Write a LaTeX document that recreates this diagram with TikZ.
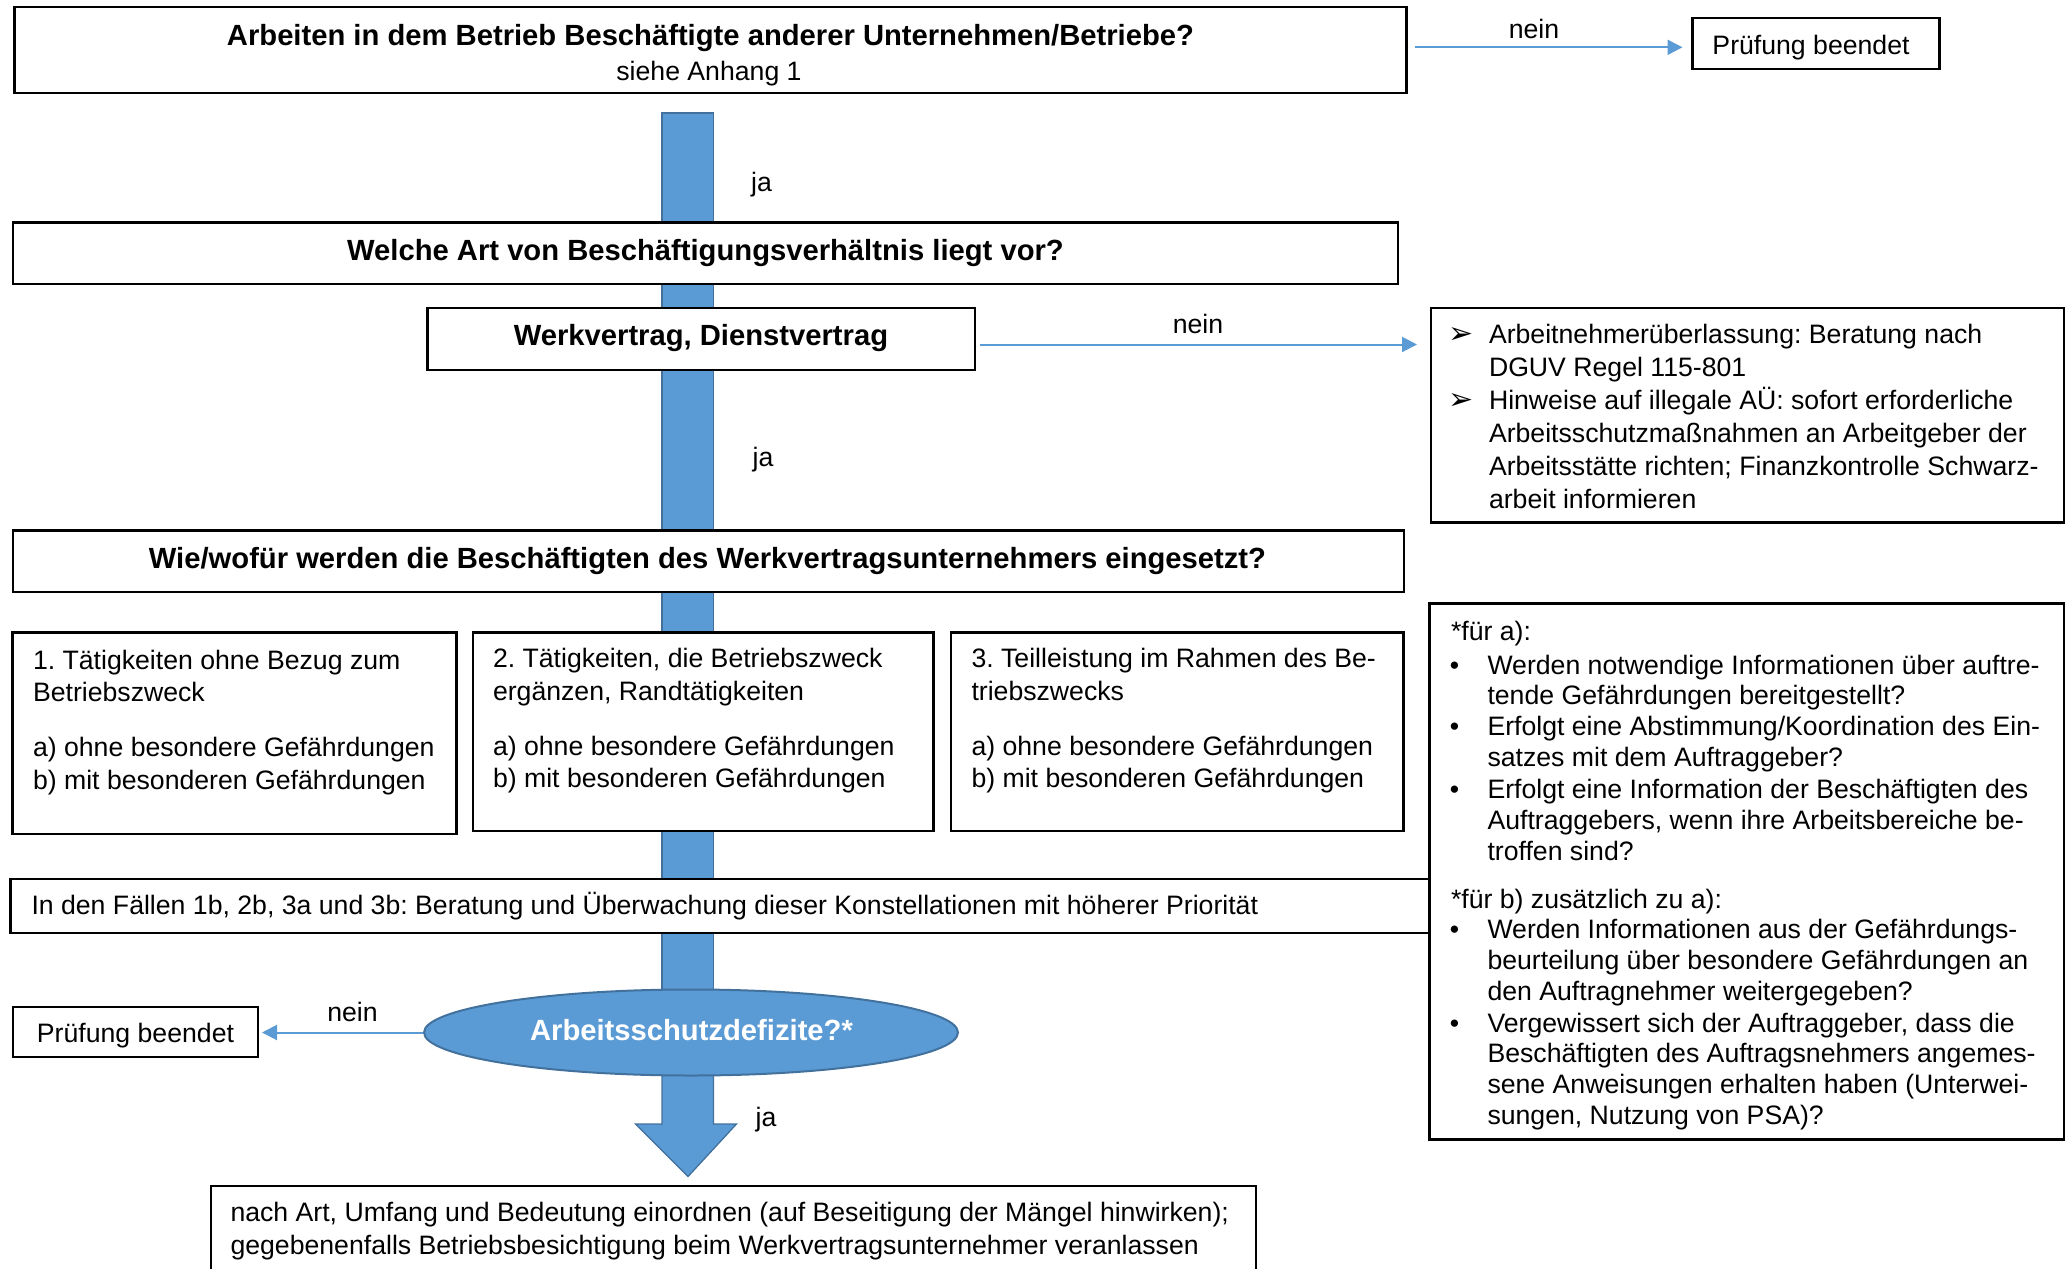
\documentclass[tikz,border=0pt]{standalone}
\usepackage{fontspec}
\setmainfont{Liberation Sans}
\newfontfamily\djv{DejaVu Sans}
\usetikzlibrary{arrows.meta,shapes.geometric}
\definecolor{obl}{HTML}{5B9BD5}
\definecolor{obd}{HTML}{41719C}
\frenchspacing
\newcommand\drawbox[5]{\node[box, minimum width={#4-#2}, minimum height={#5-#3}] (#1) at ({(#2+#4)/2},{(#3+#5)/2}) {};}
\begin{document}
\begin{tikzpicture}[x=1pt,y=-1pt,
 box/.style={draw=black, fill=white, line width=2.2pt, inner sep=0pt, outer sep=0pt, rectangle},
 txt/.style={inner sep=0pt, outer sep=0pt, anchor=base west, font=\frenchspacing\fontsize{26.65}{32.8}\selectfont},
 ctxt/.style={txt, anchor=base},
 ftxt/.style={txt, font=\frenchspacing\fontsize{26.65}{30.8}\selectfont},
 btxt/.style={inner sep=0pt, outer sep=0pt, anchor=base, font=\fontsize{29.2}{35}\selectfont\bfseries},
 arr/.style={draw=obl, line width=2pt, -{Triangle[length=15pt,width=15pt]}},
 bigarrow/.style={fill=obl, draw=obd, line width=1.3pt},
 arrbullet/.style={inner sep=0pt, outer sep=0pt, anchor=base, font=\djv\fontsize{30}{30}\selectfont},
]
\useasboundingbox (0,0) rectangle (2065,1269);
\clip (0,0) rectangle (2065,1269);

% main blue bar (behind the boxes)
\path[bigarrow] (662,113) rectangle (713.5,1045);

% boxes
\drawbox{top}{14.5}{7}{1406.5}{93}
\drawbox{pb1}{1692.5}{18}{1939.5}{68.7}
\drawbox{art}{13}{222.5}{1398}{284}
\drawbox{werk}{427.5}{308}{975}{370}
\drawbox{aue}{1431}{308.3}{2064}{522.5}
\drawbox{wie}{13}{530.5}{1404}{592}
\drawbox{r1}{12.5}{632.5}{456.5}{834}
\drawbox{r2}{473}{632.5}{933.5}{831}
\drawbox{r3}{951}{632.5}{1403.5}{831}
\drawbox{inden}{10.5}{879}{1429}{933}
\drawbox{fn}{1429.5}{603.5}{2064}{1139.5}
\drawbox{pb2}{13}{1007}{258}{1057}
\drawbox{res}{211}{1186}{1256}{1320}

% lower blue arrow
\path[bigarrow] (662,1050) -- (662,1124) -- (635.5,1124) -- (688,1176.5) -- (736.5,1124) -- (713.5,1124) -- (713.5,1050) -- cycle;

% decision ellipse
\node[ellipse, fill=obl, draw=obd, line width=2pt, minimum width=534, minimum height=86, inner sep=0pt] (ell) at (691,1032.5) {};
\node[btxt, text=white] (ellt) at (691.5,1040) {Arbeitsschutzdefizite?*};

% texts
\node[btxt] (topt) at (710.5,45.5) {Arbeiten in dem Betrieb Beschäftigte anderer Unternehmen/Betriebe?};
\node[ctxt] (topt2) at (709,80) {siehe Anhang 1};
\node[ctxt] (pb1t) at (1811,54) {Prüfung beendet};
\node[ctxt] (nein1) at (1534,38) {nein};
\node[ctxt] (ja1) at (761.5,191) {ja};
\node[btxt] (artt) at (705.5,260) {Welche Art von Beschäftigungsverhältnis liegt vor?};
\node[btxt] (werkt) at (701,345.5) {Werkvertrag, Dienstvertrag};
\node[ctxt] (nein2) at (1198,333) {nein};
\node[ctxt] (ja2) at (763,466) {ja};
\node[btxt] (wiet) at (707.5,568.5) {Wie/wofür werden die Beschäftigten des Werkvertragsunternehmers eingesetzt?};

% bullet box AÜ
\node[arrbullet] (aub1) at (1461,343.5) {➢};
\node[txt, font=\frenchspacing\fontsize{26.65}{33}\selectfont] (aut1) at (1489,343.5) {\vtop{\hbox{Arbeitnehmerüberlassung: Beratung nach}\hbox{DGUV Regel 115-801}}};
\node[arrbullet] (aub2) at (1461,409.5) {➢};
\node[txt, font=\frenchspacing\fontsize{26.65}{33}\selectfont] (aut2) at (1489,409.5) {\vtop{\hbox{Hinweise auf illegale AÜ: sofort erforderliche}\hbox{Arbeitsschutzmaßnahmen an Arbeitgeber der}\hbox{Arbeitsstätte richten; Finanzkontrolle Schwarz-}\hbox{arbeit informieren}}};

% three categories
\node[txt] (r1t) at (33,669) {\vtop{\hbox{1. Tätigkeiten ohne Bezug zum}\hbox{Betriebszweck}\vskip22pt\hbox{a) ohne besondere Gefährdungen}\hbox{b) mit besonderen Gefährdungen}}};
\node[txt] (r2t) at (493,667.5) {\vtop{\hbox{2. Tätigkeiten, die Betriebszweck}\hbox{ergänzen, Randtätigkeiten}\vskip22pt\hbox{a) ohne besondere Gefährdungen}\hbox{b) mit besonderen Gefährdungen}}};
\node[txt] (r3t) at (971.5,667.5) {\vtop{\hbox{3. Teilleistung im Rahmen des Be-}\hbox{triebszwecks}\vskip22pt\hbox{a) ohne besondere Gefährdungen}\hbox{b) mit besonderen Gefährdungen}}};

\node[txt] (indent) at (31.5,914.5) {In den Fällen 1b, 2b, 3a und 3b: Beratung und Überwachung dieser Konstellationen mit höherer Priorität};

\node[ctxt] (pb2t) at (135.5,1042.5) {Prüfung beendet};
\node[ctxt] (nein3) at (352.5,1021) {nein};
\node[ctxt] (ja3) at (766,1126) {ja};

\node[txt] (rest) at (230.5,1221.5) {\vtop{\hbox{nach Art, Umfang und Bedeutung einordnen (auf Beseitigung der Mängel hinwirken);}\hbox{gegebenenfalls Betriebsbesichtigung beim Werkvertragsunternehmer veranlassen}}};

% footnote box
\node[ftxt] (fa) at (1451,640) {*für a):};
\node[ftxt, anchor=base] (fb1) at (1454.5,674) {•};
\node[ftxt] (ft1) at (1487.5,674) {\vtop{\hbox{Werden notwendige Informationen über auftre-}\hbox{tende Gefährdungen bereitgestellt?}}};
\node[ftxt, anchor=base] (fb2) at (1454.5,735.5) {•};
\node[ftxt] (ft2) at (1487.5,735.5) {\vtop{\hbox{Erfolgt eine Abstimmung/Koordination des Ein-}\hbox{satzes mit dem Auftraggeber?}}};
\node[ftxt, anchor=base] (fb3) at (1454.5,798.5) {•};
\node[ftxt] (ft3) at (1487.5,798.5) {\vtop{\hbox{Erfolgt eine Information der Beschäftigten des}\hbox{Auftraggebers, wenn ihre Arbeitsbereiche be-}\hbox{troffen sind?}}};
\node[ftxt] (fbb) at (1451,908) {*für b) zusätzlich zu a):};
\node[ftxt, anchor=base] (fb4) at (1454.5,938.5) {•};
\node[ftxt] (ft4) at (1487.5,938.5) {\vtop{\hbox{Werden Informationen aus der Gefährdungs-}\hbox{beurteilung über besondere Gefährdungen an}\hbox{den Auftragnehmer weitergegeben?}}};
\node[ftxt, anchor=base] (fb5) at (1454.5,1032) {•};
\node[ftxt] (ft5) at (1487.5,1032) {\vtop{\hbox{Vergewissert sich der Auftraggeber, dass die}\hbox{Beschäftigten des Auftragsnehmers angemes-}\hbox{sene Anweisungen erhalten haben (Unterwei-}\hbox{sungen, Nutzung von PSA)?}}};

% thin "nein" connectors
\draw[arr, shorten <=8.5pt, shorten >=10pt] ([yshift=2.7pt]top.east) -- ([yshift=2.7pt]top.east -| pb1.west);
\draw[arr, shorten <=5pt, shorten >=14pt] ([yshift=-5.5pt]werk.east) -- ([yshift=-5.5pt]werk.east -| aue.west);
\draw[arr, shorten >=4pt] (ell.west) -- (ell.west -| pb2.east);
\end{tikzpicture}
\end{document}
